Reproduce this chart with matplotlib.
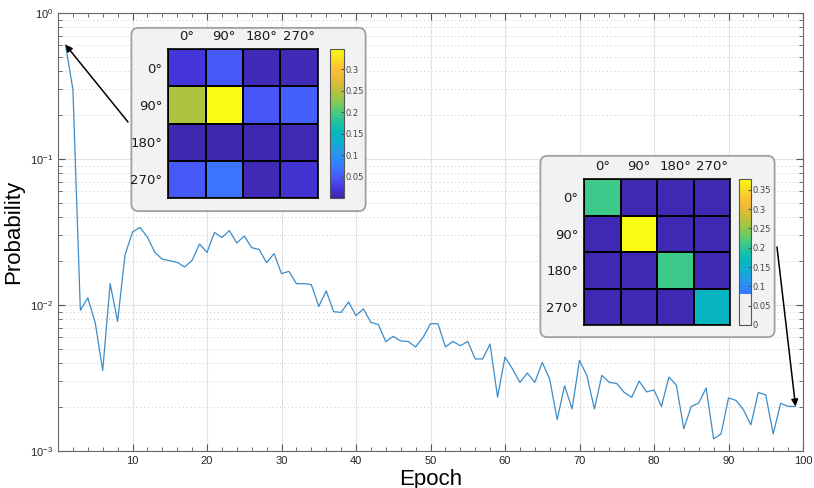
import matplotlib
matplotlib.use("Agg")
import matplotlib.pyplot as plt
import numpy as np
from matplotlib.colors import LinearSegmentedColormap, ListedColormap
from matplotlib.patches import FancyBboxPatch
import matplotlib.cm as cm
import matplotlib.colors as mcolors

# probability per epoch
epochs = list(range(1, 100))
prob = [0.607, 0.30, 0.0092, 0.0112, 0.00753, 0.00356, 0.0140, 0.00772, 0.0221, 0.0316,
        0.034, 0.0292, 0.0229, 0.0206, 0.0201, 0.0196, 0.0182, 0.0202, 0.0262, 0.0229,
        0.0314, 0.029, 0.0323, 0.0266, 0.0297, 0.0247, 0.024, 0.0195, 0.0225, 0.0164,
        0.017, 0.014, 0.014, 0.0138, 0.00978, 0.0125, 0.009, 0.0089, 0.0105, 0.00845,
        0.0094, 0.0076, 0.00736, 0.0056, 0.0061, 0.00567, 0.00563, 0.00516, 0.006, 0.00745,
        0.00745, 0.00516, 0.00563, 0.00526, 0.00563, 0.00427, 0.00427, 0.0054, 0.00234, 0.0044,
        0.00365, 0.00295, 0.00342, 0.00295, 0.00404, 0.00311, 0.00164, 0.0028, 0.00194, 0.00418,
        0.00328, 0.00194, 0.0033, 0.00295, 0.0029, 0.00252, 0.00233, 0.00301, 0.00254, 0.00262,
        0.00202, 0.00321, 0.00283, 0.00142, 0.00202, 0.00213, 0.0027, 0.00121, 0.00131, 0.00231,
        0.00222, 0.00192, 0.00151, 0.00252, 0.00242, 0.00131, 0.00212, 0.00202, 0.00202]

angles = ["0°", "90°", "180°", "270°"]

# confusion matrices shown in the insets
cm_early = np.array([[0.022, 0.048, 0.007, 0.007],
                     [0.245, 0.347, 0.047, 0.055],
                     [0.003, 0.002, 0.004, 0.005],
                     [0.048, 0.07, 0.006, 0.018]])
cm_late = np.array([[0.21, 0.005, 0.005, 0.005],
                    [0.005, 0.378, 0.005, 0.005],
                    [0.005, 0.005, 0.21, 0.005],
                    [0.005, 0.005, 0.005, 0.16]])

# approx. MATLAB parula
parula_pts = [(0.2422, 0.1504, 0.6603), (0.2680, 0.2110, 0.8520), (0.2810, 0.3230, 0.9580),
              (0.2440, 0.4350, 0.9990), (0.1780, 0.5290, 0.9900), (0.1400, 0.6100, 0.9100),
              (0.0590, 0.6860, 0.8250), (0.0200, 0.7240, 0.7380), (0.1060, 0.7600, 0.6370),
              (0.2500, 0.7900, 0.5300), (0.4530, 0.7980, 0.3590), (0.6390, 0.7780, 0.2540),
              (0.8040, 0.7480, 0.2120), (0.9370, 0.7250, 0.2170), (0.9930, 0.7650, 0.1970),
              (0.9690, 0.8800, 0.1270), (0.9769, 0.9839, 0.0805)]
parula = LinearSegmentedColormap.from_list("parula", parula_pts, N=256)

W, H = 814, 488
def fr(x0, y0, x1, y1):
    return [x0 / W, 1 - y1 / H, (x1 - x0) / W, (y1 - y0) / H]

fig = plt.figure(figsize=(8.14, 4.88), dpi=100)
ax = fig.add_axes(fr(58, 13, 803, 451))

ax.plot(epochs, prob, color="#3d8cc8", lw=0.9)
ax.set_yscale("log")
ax.set_xlim(0, 100)
ax.set_ylim(1e-3, 1)
ax.set_xticks(range(10, 101, 10))
ax.set_xticks(range(0, 101, 2), minor=True)
ax.grid(True, which="major", color="#e3e3e3", lw=0.8)
ax.grid(True, which="minor", axis="y", color="#c8c8c8", lw=0.7, linestyle=(0, (1, 3)))
ax.tick_params(which="both", direction="in", top=True, right=True, colors="#555555",
               labelcolor="#262626", labelsize=8)
ax.tick_params(which="major", length=5)
ax.tick_params(which="minor", length=3)
for s in ax.spines.values():
    s.set_color("#666666")
    s.set_linewidth(0.8)
for lab in ax.get_xticklabels() + ax.get_yticklabels():
    lab.set_family("Liberation Sans")
ax.set_xlabel("Epoch", fontsize=16, family="Liberation Sans", labelpad=2)
ax.set_ylabel("Probability", fontsize=16, family="Liberation Sans", labelpad=4)

# arrows from insets to the curve
ax.annotate("", xy=(epochs[0], prob[0]), xytext=(128 / W, 1 - 122 / H), textcoords="figure fraction",
            arrowprops=dict(arrowstyle="-|>", color="k", lw=1.1, mutation_scale=10, shrinkA=0, shrinkB=0))
ax.annotate("", xy=(epochs[-1], prob[-1]), xytext=(777 / W, 1 - 247 / H), textcoords="figure fraction",
            arrowprops=dict(arrowstyle="-|>", color="k", lw=1.1, mutation_scale=10, shrinkA=0, shrinkB=0))


def inset(box, hm, cb, data, vmax, cb_cmap, cb_ticks, cb_min):
    bx = fig.add_axes(box)
    bx.set_axis_off()
    bx.add_patch(FancyBboxPatch((0.01, 0.01), 0.98, 0.98, boxstyle="round,pad=0,rounding_size=0.03",
                                transform=bx.transAxes, fc="#f2f2f2", ec="#a0a0a0", lw=1.3,
                                mutation_aspect=box[2] * W / (box[3] * H)))
    hx = fig.add_axes(hm)
    hx.pcolormesh(data, cmap=parula, vmin=0, vmax=vmax, edgecolors="k", linewidth=1.2)
    hx.set_xlim(0, 4)
    hx.set_ylim(4, 0)
    hx.xaxis.tick_top()
    hx.set_xticks(np.arange(4) + 0.5, angles)
    hx.set_yticks(np.arange(4) + 0.5, angles)
    hx.tick_params(length=0, labelsize=9.5, pad=4, labelcolor="#1a1a1a")
    for s in hx.spines.values():
        s.set_linewidth(1.2)
    cx = fig.add_axes(cb)
    sm = cm.ScalarMappable(norm=mcolors.Normalize(cb_min, vmax), cmap=cb_cmap)
    c = fig.colorbar(sm, cax=cx, ticks=cb_ticks)
    c.outline.set_edgecolor("#555555")
    c.outline.set_linewidth(0.8)
    cx.tick_params(direction="in", length=2.5, labelsize=6, colors="#555555", labelcolor="#444444", pad=1)
    cx.set_yticklabels([("%g" % t) for t in cb_ticks])


inset(fr(129, 26, 368, 213), fr(168, 49, 318, 198), fr(330, 49, 344, 198),
      cm_early, 0.347, parula, [0.05, 0.1, 0.15, 0.2, 0.25, 0.3], 0)

late_vmax = 0.378
cols = parula(np.linspace(0, 1, 256))
cut = int(256 * 0.08 / late_vmax)
cols[:cut] = mcolors.to_rgba("#f0f0f0")
inset(fr(538, 154, 777, 339), fr(584, 179, 730, 325), fr(739, 179, 751, 325),
      cm_late, late_vmax, ListedColormap(cols), [0, 0.05, 0.1, 0.15, 0.2, 0.25, 0.3, 0.35], 0)

fig.savefig("out.png", dpi=100)
